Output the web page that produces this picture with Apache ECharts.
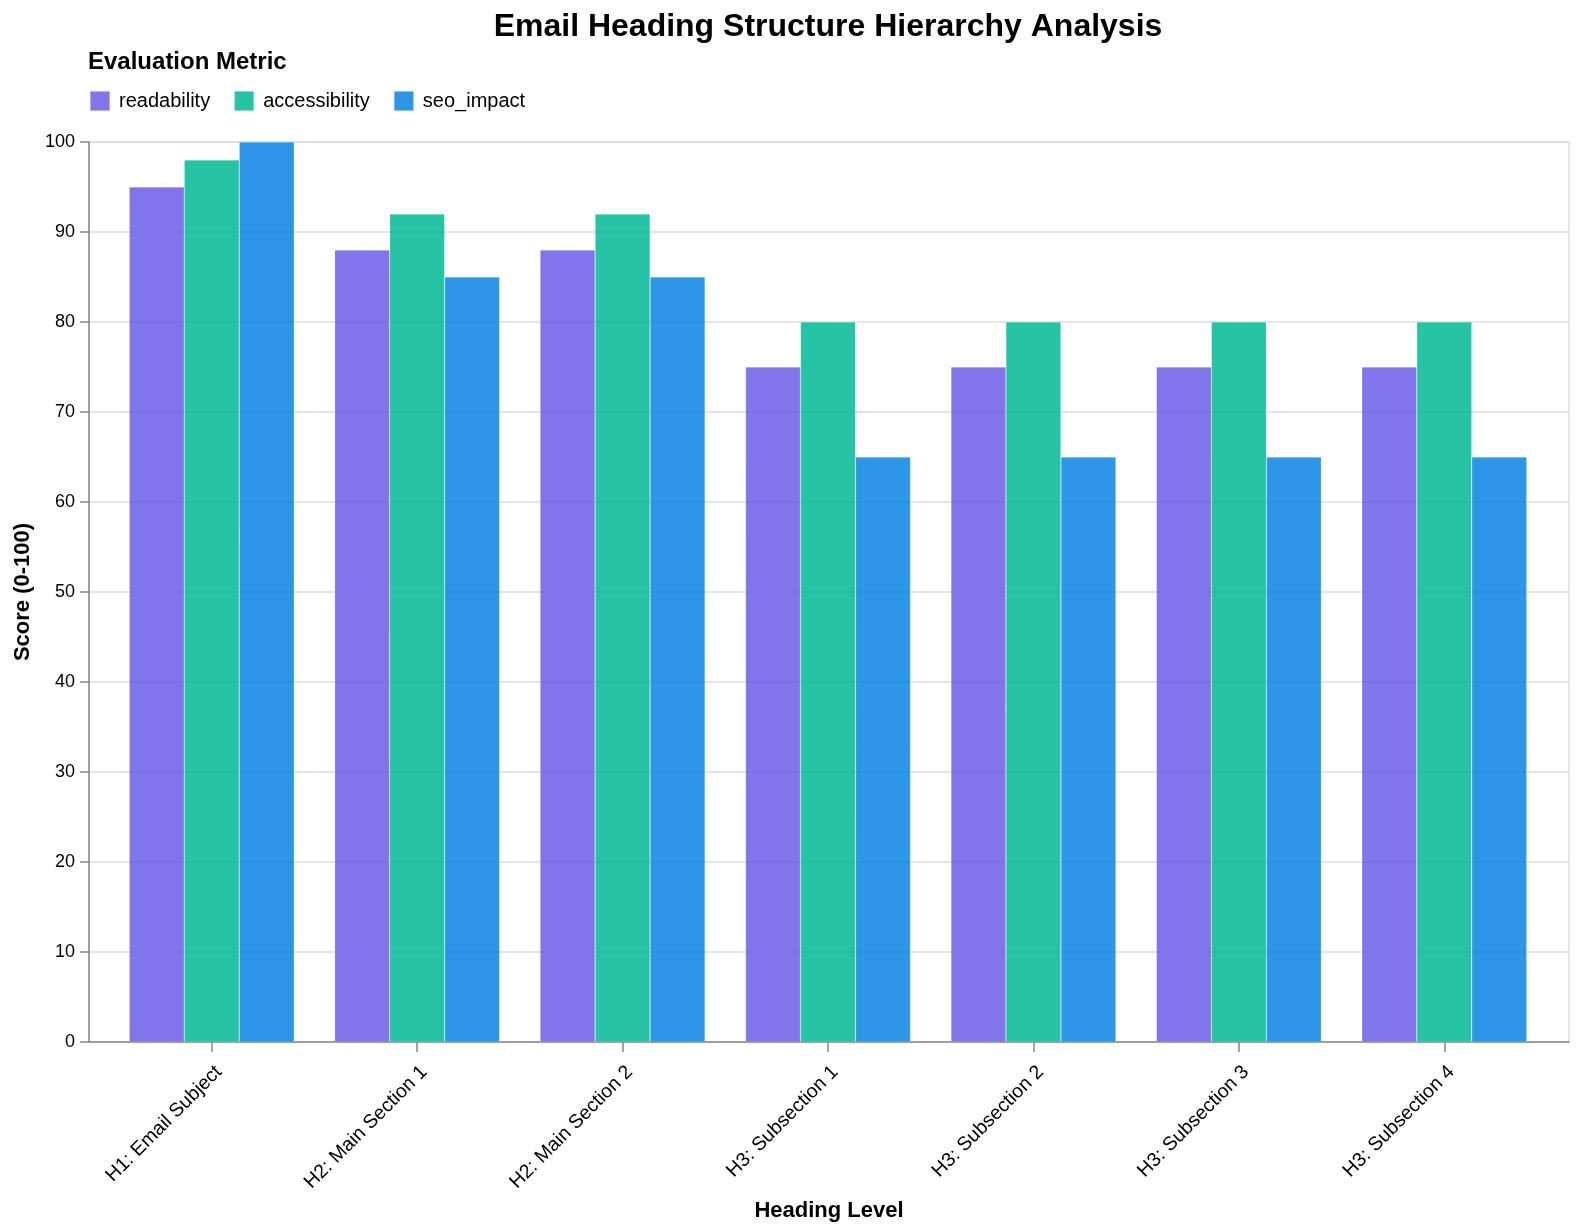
<!DOCTYPE html>
<html>
<head>
<meta charset="utf-8">
<script src="https://cdn.jsdelivr.net/npm/echarts@6/dist/echarts.min.js"></script>
<style>
  html, body { margin: 0; padding: 0; background: #fff; }
  #chart { width: 1578px; height: 1230px; }
</style>
</head>
<body>
<div id="chart"></div>
<script>
const headings = [
  'H1: Email Subject',
  'H2: Main Section 1',
  'H2: Main Section 2',
  'H3: Subsection 1',
  'H3: Subsection 2',
  'H3: Subsection 3',
  'H3: Subsection 4'
];
const metrics = ['readability', 'accessibility', 'seo_impact'];
const readability = [95, 88, 88, 75, 75, 75, 75];
const accessibility = [98, 92, 92, 80, 80, 80, 80];
const seoImpact = [100, 85, 85, 65, 65, 65, 65];
const colors = ['#6c5ce7', '#00b894', '#0984e3'];

const chart = echarts.init(document.getElementById('chart'), null, { renderer: 'canvas' });
const font = 'Liberation Sans, Arial, sans-serif';

// grid 0 is the full frame (y axis, gridlines, baseline); grid 1 holds the bars,
// inset so the bands have outer padding like the reference
function barSeries(name, data) {
  return {
    name: name,
    type: 'bar',
    data: data,
    xAxisIndex: 1,
    yAxisIndex: 1,
    barGap: '0%',
    barCategoryGap: '19.7%',
    itemStyle: {
      opacity: 0.85,
      borderColor: 'rgba(255,255,255,0.5)',
      borderWidth: 0.5
    }
  };
}

const option = {
  color: colors,
  animation: false,
  textStyle: { fontFamily: font },
  title: [{
    text: 'Email Heading Structure Hierarchy Analysis',
    left: 823,
    textAlign: 'center',
    top: 6,
    textStyle: { fontSize: 32, fontWeight: 'bold', color: '#000', fontFamily: font }
  }, {
    text: 'Evaluation Metric',
    left: 83,
    top: 45,
    textStyle: { fontSize: 24, fontWeight: 'bold', color: '#000', fontFamily: font }
  }],
  legend: {
    data: metrics,
    left: 84,
    top: 85,
    itemWidth: 20,
    itemHeight: 20,
    itemGap: 23,
    icon: 'rect',
    textStyle: { fontSize: 20, color: '#000', fontFamily: font, padding: [0, 0, 0, 4] }
  },
  grid: [{
    left: 89,
    right: 9,
    top: 142,
    bottom: 188,
    show: true,
    borderColor: '#dddddd',
    borderWidth: 1.5
  }, {
    left: 109,
    right: 31,
    top: 142,
    bottom: 188
  }],
  xAxis: [{
    type: 'category',
    gridIndex: 0,
    data: headings,
    name: 'Heading Level',
    nameLocation: 'middle',
    nameGap: 158,
    nameTextStyle: { fontSize: 22, fontWeight: 'bold', color: '#000', fontFamily: font },
    axisLine: { lineStyle: { color: '#888', width: 1.5 } },
    axisTick: { show: false },
    axisLabel: { show: false },
    splitLine: { show: false }
  }, {
    type: 'category',
    gridIndex: 1,
    data: headings,
    axisLine: { show: false },
    axisTick: { show: true, alignWithLabel: true, length: 10, lineStyle: { color: '#888', width: 1.5 } },
    axisLabel: {
      rotate: 45,
      fontSize: 19.5,
      color: '#000',
      margin: 20,
      verticalAlign: 'top',
      fontFamily: font
    },
    splitLine: { show: false }
  }],
  yAxis: [{
    type: 'value',
    gridIndex: 0,
    min: 0,
    max: 100,
    interval: 10,
    name: 'Score (0-100)',
    nameLocation: 'middle',
    nameGap: 53,
    nameTextStyle: { fontSize: 22, fontWeight: 'bold', color: '#000', fontFamily: font },
    axisLine: { show: true, lineStyle: { color: '#888', width: 1.5 } },
    axisTick: { show: true, length: 9, lineStyle: { color: '#888', width: 1.5 } },
    axisLabel: { fontSize: 18, color: '#000', margin: 14, fontFamily: font },
    splitLine: { lineStyle: { color: '#dddddd', width: 1.5 } }
  }, {
    type: 'value',
    gridIndex: 1,
    min: 0,
    max: 100,
    interval: 10,
    show: false,
    splitLine: { show: false }
  }],
  series: [
    barSeries(metrics[0], readability),
    barSeries(metrics[1], accessibility),
    barSeries(metrics[2], seoImpact)
  ]
};

chart.setOption(option);
</script>
</body>
</html>
